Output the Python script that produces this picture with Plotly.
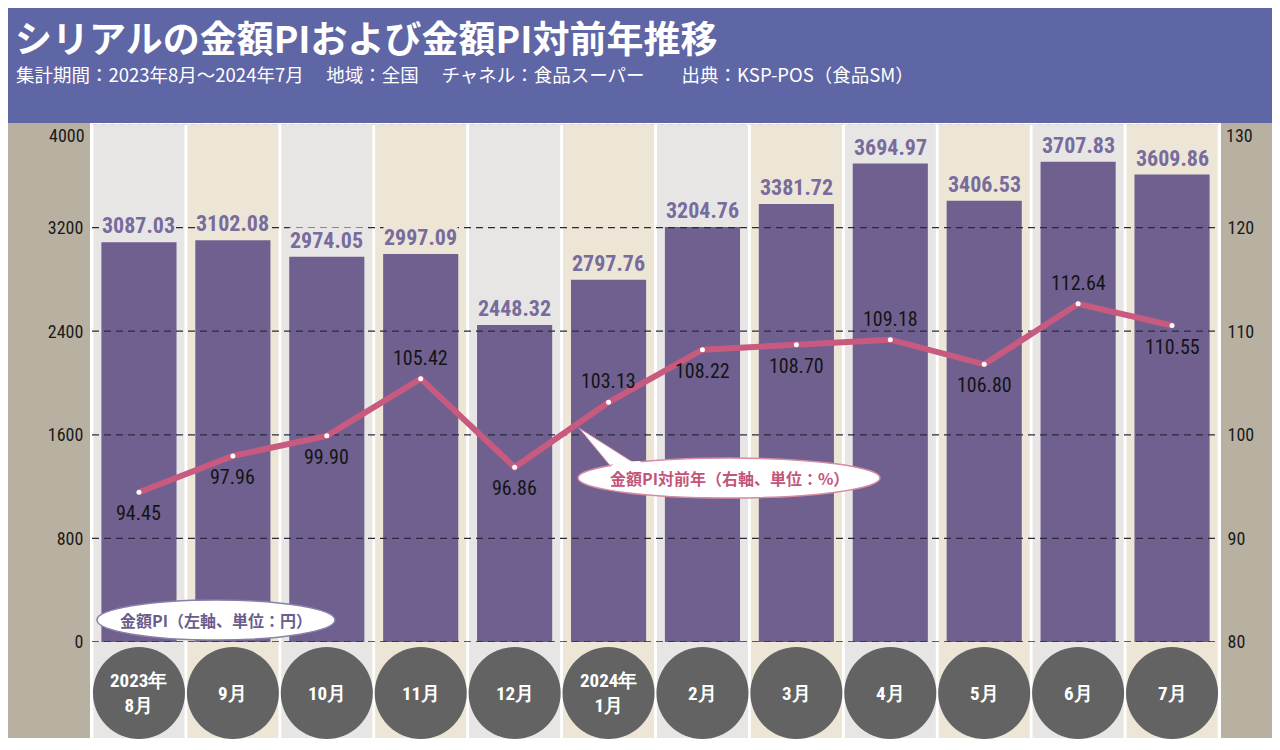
import plotly.graph_objects as go

# ---------------- data ----------------
month_labels = ["2023年<br>8月", "9月", "10月", "11月", "12月", "2024年<br>1月",
                "2月", "3月", "4月", "5月", "6月", "7月"]
pi_amount = [3087.03, 3102.08, 2974.05, 2997.09, 2448.32, 2797.76,
             3204.76, 3381.72, 3694.97, 3406.53, 3707.83, 3609.86]
pi_yoy = [94.45, 97.96, 99.90, 105.42, 96.86, 103.13,
          108.22, 108.70, 109.18, 106.80, 112.64, 110.55]
yoy_label_side = ["below", "below", "below", "above", "below", "above",
                  "below", "below", "above", "below", "above", "below"]
left_ticks = [0, 800, 1600, 2400, 3200, 4000]
right_ticks = [80, 90, 100, 110, 120, 130]

title_text = "シリアルの金額PIおよび金額PI対前年推移"
subtitle_text = ("集計期間：2023年8月～2024年7月　 地域：全国　 チャネル：食品スーパー　　"
                 "出典：KSP-POS（食品SM）")
bar_legend = "金額PI（左軸、単位：円）"
line_legend = "金額PI対前年（右軸、単位：%）"

# ---------------- layout geometry ----------------
# the page body has an 8px margin; positions below are given in window pixels
OFF = 8
W, H = 1280 - 2 * OFF, 750 - 2 * OFF
P_LEFT, P_RIGHT, P_TOP, P_BOTTOM = 92, 1219, 124, 642   # plot area in window pixels
ML = P_LEFT - OFF
MR = W - (P_RIGHT - OFF)
MT = P_TOP - OFF
MB = H - (P_BOTTOM - OFF)
PW = P_RIGHT - P_LEFT
PH = P_BOTTOM - P_TOP


def px_x(sx):
    return (sx - P_LEFT) / PW


def px_y(sy):
    return (P_BOTTOM - sy) / PH


NARROW = "Liberation Sans Narrow, Roboto Condensed, Arial Narrow, Liberation Sans, sans-serif"
CJK = "Noto Sans CJK JP, Noto Sans, sans-serif"

BAR_COLOR = "#6f6090"
BAR_TEXT = "#786c9d"
LINE_COLOR = "#c95a7f"
PANEL = "#b8b1a1"
HEADER = "#5f66a5"
STRIPES = ["#e8e6e5", "#ede6d6"]
CIRCLE = "#636363"
GRID = "#2a2a3a"

n = len(month_labels)
xs = list(range(n))

fig = go.Figure()

fig.add_trace(go.Bar(
    x=xs, y=pi_amount, width=0.8, marker=dict(color=BAR_COLOR, line=dict(width=0)),
    showlegend=False, hoverinfo="skip",
))

# dashed horizontal grid lines (drawn over the bars, under the line)
gx, gy = [], []
for v in left_ticks[:-1]:
    gx += [-0.5, n - 0.5, None]
    gy += [v, v, None]
fig.add_trace(go.Scatter(
    x=gx, y=gy, mode="lines", line=dict(color=GRID, width=1.3, dash="7px,5px"),
    cliponaxis=False, showlegend=False, hoverinfo="skip",
))
fig.add_trace(go.Scatter(
    x=[-0.5, n - 0.5], y=[left_ticks[-1]] * 2, mode="lines",
    line=dict(color="#cfcfd8", width=1.3, dash="5px,4px"),
    cliponaxis=False, showlegend=False, hoverinfo="skip",
))

fig.add_trace(go.Scatter(
    x=xs, y=pi_yoy, yaxis="y2", mode="lines+markers",
    line=dict(color=LINE_COLOR, width=6),
    marker=dict(color="white", size=5, line=dict(width=0)),
    cliponaxis=False, showlegend=False, hoverinfo="skip",
))

shapes = []
# header band
shapes.append(dict(type="rect", xref="paper", yref="paper", x0=px_x(7), x1=px_x(1272),
                   y0=px_y(123), y1=px_y(7), fillcolor=HEADER, line=dict(width=0), layer="below"))
# side panels
shapes.append(dict(type="rect", xref="paper", yref="paper", x0=px_x(7), x1=px_x(90),
                   y0=px_y(738), y1=px_y(123), fillcolor=PANEL, line=dict(width=0), layer="below"))
shapes.append(dict(type="rect", xref="paper", yref="paper", x0=px_x(1221), x1=px_x(1272),
                   y0=px_y(738), y1=px_y(123), fillcolor=PANEL, line=dict(width=0), layer="below"))
# column stripes
for i in xs:
    shapes.append(dict(type="rect", xref="x", yref="paper", x0=i - 0.485, x1=i + 0.485,
                       y0=px_y(738), y1=px_y(124), fillcolor=STRIPES[i % 2],
                       line=dict(width=0), layer="below"))
# month circles
for i in xs:
    shapes.append(dict(type="circle", xref="x", yref="paper", x0=i - 0.49, x1=i + 0.49,
                       y0=px_y(739), y1=px_y(647), fillcolor=CIRCLE, line=dict(width=0),
                       layer="above"))
# callout ellipses
shapes.append(dict(type="circle", xref="paper", yref="paper", x0=px_x(97), x1=px_x(335),
                   y0=px_y(640), y1=px_y(600), fillcolor="white",
                   line=dict(color="#8a7fa8", width=1.5), layer="above"))
tail = (f"M {px_x(579)},{px_y(428)} L {px_x(612)},{px_y(468)} "
        f"L {px_x(642)},{px_y(468)} Z")
shapes.append(dict(type="path", xref="paper", yref="paper", path=tail, fillcolor="white",
                   line=dict(color="#d68aa3", width=1), layer="above"))
shapes.append(dict(type="circle", xref="paper", yref="paper", x0=px_x(578), x1=px_x(880),
                   y0=px_y(498), y1=px_y(458), fillcolor="white",
                   line=dict(color="#d68aa3", width=1.5), layer="above"))
shapes.append(dict(type="path", xref="paper", yref="paper",
                   path=(f"M {px_x(611)},{px_y(466)} L {px_x(644)},{px_y(466)} "
                         f"L {px_x(640)},{px_y(461)} L {px_x(616)},{px_y(462)} Z"),
                   fillcolor="white", line=dict(width=0), layer="above"))

annotations = []
annotations.append(dict(xref="paper", yref="paper", x=px_x(13), y=px_y(37), xanchor="left",
                        yanchor="middle", text=f"<b>{title_text}</b>", showarrow=False,
                        font=dict(family=CJK, size=37, color="white")))
annotations.append(dict(xref="paper", yref="paper", x=px_x(14), y=px_y(74), xanchor="left",
                        yanchor="middle", text=subtitle_text, showarrow=False,
                        font=dict(family=CJK, size=18.5, color="white")))
# bar value labels (drawn over the dashed lines, on the stripe colour)
for i, v in enumerate(pi_amount):
    annotations.append(dict(xref="x", yref="y", x=i, y=v, xanchor="center", yanchor="bottom",
                            yshift=3, text=f"<b>{v:.2f}</b>", showarrow=False,
                            bgcolor=STRIPES[i % 2], borderpad=0,
                            font=dict(family=NARROW, size=22, color=BAR_TEXT)))
# line value labels
for i, (v, side) in enumerate(zip(pi_yoy, yoy_label_side)):
    annotations.append(dict(xref="x", yref="y2", x=i, y=v, xanchor="center", yanchor="middle",
                            yshift=21 if side == "above" else -21, text=f"{v:.2f}",
                            showarrow=False,
                            font=dict(family=NARROW, size=20, color="#141414")))
for i in xs:
    annotations.append(dict(xref="x", yref="paper", x=i, y=px_y(693),
                            text=f"<b>{month_labels[i]}</b>",
                            showarrow=False, xanchor="center", yanchor="middle",
                            font=dict(family=NARROW, size=19, color="white")))
annotations.append(dict(xref="paper", yref="paper", x=px_x(216), y=px_y(620),
                        xanchor="center", yanchor="middle", text=f"<b>{bar_legend}</b>",
                        showarrow=False, font=dict(family=CJK, size=16, color="#6a5d8c")))
annotations.append(dict(xref="paper", yref="paper", x=px_x(729), y=px_y(478),
                        xanchor="center", yanchor="middle", text=f"<b>{line_legend}</b>",
                        showarrow=False, font=dict(family=CJK, size=16, color="#c4557a")))
# top tick labels (placed just below the header edge)
annotations.append(dict(xref="paper", yref="paper", x=px_x(87), y=px_y(136), xanchor="right",
                        yanchor="middle", text=str(left_ticks[-1]), showarrow=False,
                        font=dict(family=NARROW, size=18, color="#1a1a1a")))
annotations.append(dict(xref="paper", yref="paper", x=px_x(1224), y=px_y(136), xanchor="left",
                        yanchor="middle", text=str(right_ticks[-1]), showarrow=False,
                        font=dict(family=NARROW, size=18, color="#1a1a1a")))

fig.update_layout(
    width=W, height=H,
    margin=dict(l=ML, r=MR, t=MT, b=MB, pad=0, autoexpand=False),
    paper_bgcolor="white", plot_bgcolor="white",
    showlegend=False,
    xaxis=dict(range=[-0.5, n - 0.5], showticklabels=False, showgrid=False, zeroline=False,
               ticks="", fixedrange=True, automargin=False),
    yaxis=dict(range=[left_ticks[0], left_ticks[-1]], tickvals=left_ticks,
               ticktext=[str(v) for v in left_ticks[:-1]] + [""],
               showgrid=False, zeroline=False, ticks="outside", ticklen=4,
               tickcolor="rgba(0,0,0,0)", automargin=False,
               tickfont=dict(family=NARROW, size=18, color="#1a1a1a")),
    yaxis2=dict(range=[right_ticks[0], right_ticks[-1]], tickvals=right_ticks,
                ticktext=[str(v) for v in right_ticks[:-1]] + [""],
                overlaying="y", side="right", showgrid=False, zeroline=False,
                ticks="outside", ticklen=4, tickcolor="rgba(0,0,0,0)", automargin=False,
                tickfont=dict(family=NARROW, size=18, color="#1a1a1a")),
    shapes=shapes, annotations=annotations,
)

fig.write_html("out.html")
